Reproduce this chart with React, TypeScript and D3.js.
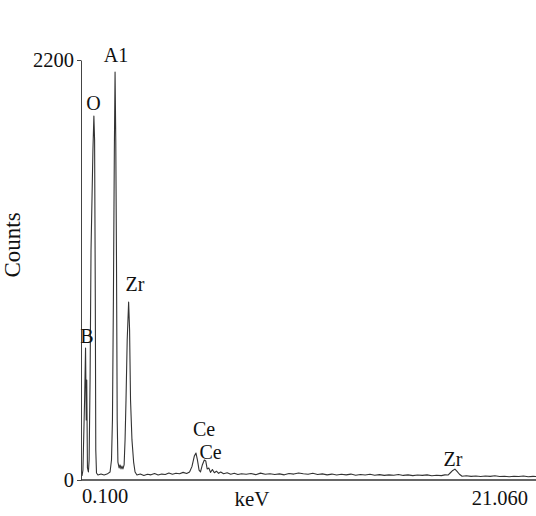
import React, { useRef, useEffect } from "react";
import * as d3 from "d3";

// energy (keV), counts
const spectrum: [number, number][] = [
  [0.10, 21], [0.14, 52], [0.21, 419], [0.25, 691], [0.28, 314], [0.30, 524],
  [0.33, 63], [0.37, 42], [0.40, 105], [0.44, 524], [0.48, 1205], [0.56, 1729],
  [0.60, 1907], [0.63, 1781], [0.66, 943], [0.68, 157], [0.71, 37], [0.77, 26],
  [0.90, 31], [1.03, 26], [1.15, 31], [1.28, 42], [1.34, 105], [1.38, 314],
  [1.42, 943], [1.46, 1729], [1.49, 2137], [1.52, 1781], [1.55, 1152], [1.58, 314],
  [1.61, 94], [1.66, 63], [1.70, 79], [1.74, 58], [1.78, 73], [1.82, 58],
  [1.87, 79], [1.91, 210], [1.95, 419], [2.00, 733], [2.06, 932], [2.10, 786],
  [2.14, 419], [2.20, 210], [2.27, 94], [2.33, 42], [2.41, 26],
  [2.55, 31], [2.70, 24], [2.85, 30], [3.00, 27], [3.15, 34], [3.30, 26],
  [3.45, 31], [3.60, 29], [3.75, 37], [3.90, 30], [4.05, 35], [4.20, 33],
  [4.35, 40], [4.50, 34], [4.62, 42], [4.72, 70], [4.82, 125], [4.89, 141],
  [4.95, 105], [5.02, 52], [5.08, 42], [5.16, 80], [5.24, 105], [5.30, 100],
  [5.36, 58], [5.43, 63], [5.50, 40], [5.58, 55], [5.66, 38], [5.75, 46],
  [5.84, 35], [5.93, 42], [6.05, 33], [6.20, 38], [6.35, 30], [6.50, 35],
  [6.65, 29], [6.80, 33], [7.00, 30], [7.20, 34], [7.40, 28], [7.60, 36],
  [7.80, 30], [8.00, 33], [8.20, 29], [8.40, 32], [8.60, 27], [8.80, 34],
  [9.00, 31], [9.20, 37], [9.40, 33], [9.60, 30], [9.80, 35], [10.00, 29],
  [10.20, 32], [10.40, 27], [10.60, 31], [10.80, 26], [11.00, 30], [11.20, 27],
  [11.40, 31], [11.60, 25], [11.80, 29], [12.00, 26], [12.20, 30], [12.40, 25],
  [12.60, 28], [12.80, 24], [13.00, 27], [13.20, 25], [13.40, 29], [13.60, 24],
  [13.80, 27], [14.00, 23], [14.20, 26], [14.40, 24], [14.60, 27], [14.80, 22],
  [15.00, 25], [15.20, 23], [15.35, 27], [15.48, 26], [15.58, 38], [15.68, 50],
  [15.77, 57], [15.86, 45], [15.96, 30], [16.07, 20], [16.25, 22], [16.45, 19],
  [16.65, 21], [16.85, 18], [17.05, 21], [17.25, 19], [17.45, 22], [17.65, 18],
  [17.85, 20], [18.05, 17], [18.25, 20], [18.45, 18], [18.65, 21], [18.85, 17],
  [19.05, 19], [19.25, 18], [19.45, 20],
];

// peak labels: name, energy (keV), counts at text baseline
const peakNames = ["A1", "O", "Zr", "B", "Ce", "Ce", "Zr"];
const peakEnergy = [1.53, 0.58, 2.33, 0.31, 5.23, 5.5, 15.69];
const peakCounts = [2190, 1938, 990, 718, 230, 110, 73];

const yTicks = [0, 2200];
const xEdgeLabels = ["0.100", "21.060"];

const FONT = "'Liberation Serif', 'Times New Roman', serif";

const App = () => {
  const svgRef = useRef<SVGSVGElement>(null);

  useEffect(() => {
    const width = 536;
    const height = 516;
    const svg = d3.select(svgRef.current).attr("width", width).attr("height", height);
    svg.selectAll("*").remove();

    const x0 = 81;
    const yBottom = 480;
    const yTop = 60;

    const xScale = d3.scaleLinear().domain([0, 20]).range([79.6, 555.6]);
    const yScale = d3.scaleLinear().domain([0, 2200]).range([yBottom, yTop]);

    // spectrum
    const line = d3
      .line<[number, number]>()
      .x((d) => xScale(d[0]))
      .y((d) => yScale(d[1]));

    svg
      .append("path")
      .datum(spectrum)
      .attr("d", line)
      .attr("fill", "none")
      .attr("stroke", "#333")
      .attr("stroke-width", 1.1)
      .attr("stroke-linejoin", "round");

    // y axis
    const yAxis = svg
      .append("g")
      .attr("transform", `translate(${x0},0)`)
      .call(d3.axisLeft(yScale).tickValues(yTicks).tickSize(4).tickSizeOuter(0).tickFormat(d3.format("d")));
    yAxis.select(".domain").attr("stroke", "#444").attr("stroke-width", 1);
    yAxis.selectAll(".tick line").attr("stroke", "#444");
    yAxis
      .selectAll("text")
      .attr("fill", "#111")
      .style("font-family", FONT)
      .style("font-size", "20.5px");

    // x axis line
    svg
      .append("line")
      .attr("x1", x0)
      .attr("x2", width)
      .attr("y1", yBottom)
      .attr("y2", yBottom)
      .attr("stroke", "#333")
      .attr("stroke-width", 1.5);

    const text = (t: string, x: number, y: number, anchor = "middle", size = 20) =>
      svg
        .append("text")
        .attr("x", x)
        .attr("y", y)
        .attr("text-anchor", anchor)
        .attr("fill", "#111")
        .style("font-family", FONT)
        .style("font-size", `${size}px`)
        .text(t);

    text(xEdgeLabels[0], 82, 503, "start", 20.5);
    text(xEdgeLabels[1], 528, 505, "end", 20.5);
    text("keV", 252, 506, "middle", 21);

    svg
      .append("text")
      .attr("transform", `translate(20,245) rotate(-90)`)
      .attr("text-anchor", "middle")
      .attr("fill", "#111")
      .style("font-family", FONT)
      .style("font-size", "23px")
      .text("Counts");

    peakNames.forEach((name, i) => {
      text(name, xScale(peakEnergy[i]), yScale(peakCounts[i]), "middle", 20);
    });
  }, []);

  return (
    <svg
      ref={svgRef}
      style={{ position: "absolute", left: 0, top: 0, background: "#fff" }}
    ></svg>
  );
};

export default App;
